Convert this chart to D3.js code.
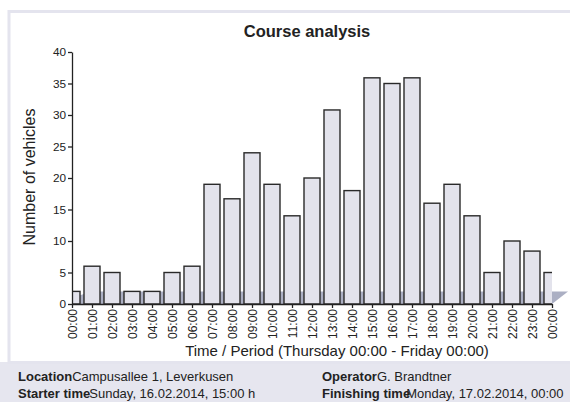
<!DOCTYPE html>
<html>
<head>
<meta charset="utf-8">
<script src="https://cdn.jsdelivr.net/npm/d3@7"></script>
<style>
	body { margin: 0; background: #fff; }
	text { font-family: "Liberation Sans", Arial, Helvetica, sans-serif; fill: #222; }
</style>
</head>
<body>
<svg id="chart" width="570" height="402"></svg>
<script>
// hourly counts, 00:00 .. 00:00 next day
let hours = d3.range(0, 25);
let hourLabels = hours.map(h => String(h % 24).padStart(2, "0") + ":00");
let vehicles = [2, 6, 5, 2, 2, 5, 6, 19, 16.7, 24, 19, 14, 20, 30.8, 18, 35.9, 35, 35.9, 16, 19, 14, 5, 10, 8.4, 5];
// background band behind the bars
let bandHours = [0, 1, 24, 24.8];
let bandValues = [1, 2, 2, 2];
let yTicks = [0, 5, 10, 15, 20, 25, 30, 35, 40];

let svg = d3.select("#chart");

// frame + info panel
svg.append("rect").attr("x", 0).attr("y", 362).attr("width", 570).attr("height", 40).attr("fill", "#e6e6ef");
svg.append("rect").attr("x", 9).attr("y", 11.5).attr("width", 570).attr("height", 351)
	.attr("fill", "#fff").attr("stroke", "#e4e4ee").attr("stroke-width", 3);

let xscale = d3.scaleLinear().domain([0, 24]).range([72, 552]);
let yscale = d3.scaleLinear().domain([0, 40]).range([304, 52]);

svg.append("text").attr("x", 307).attr("y", 37).attr("text-anchor", "middle")
	.style("font-size", "16.5px").style("font-weight", "bold").text("Course analysis");

// band
let band = d3.area()
	.x((d, i) => xscale(bandHours[i]))
	.y0((d, i) => bandHours[i] > 24 ? yscale(d) : yscale(0))
	.y1(d => yscale(d));
svg.append("path").datum(bandValues).attr("d", band).attr("fill", "#abafc3");

// bars
svg.append("clipPath").attr("id", "plot").append("rect")
	.attr("x", xscale(0)).attr("y", 0).attr("width", xscale(24) - xscale(0)).attr("height", yscale(0) + 1);

let barWidth = 16;
svg.append("g").attr("clip-path", "url(#plot)")
	.selectAll("rect")
	.data(vehicles)
	.enter()
	.append("rect")
	.attr("x", (d, i) => xscale(hours[i]) - barWidth / 2)
	.attr("y", d => yscale(d))
	.attr("width", barWidth)
	.attr("height", d => yscale(0) - yscale(d))
	.attr("fill", "#e3e3ec")
	.attr("stroke", "#2a2a2a")
	.attr("stroke-width", 1.4);

// axes
let yAxis = svg.append("g").attr("transform", "translate(" + xscale(0) + ",0)")
	.call(d3.axisLeft(yscale).tickValues(yTicks).tickSize(4).tickPadding(2).tickSizeOuter(0));
yAxis.selectAll("text").style("font-size", "11.8px");

let xAxis = svg.append("g").attr("transform", "translate(0," + yscale(0) + ")")
	.call(d3.axisBottom(xscale).tickValues(hours).tickFormat((d, i) => hourLabels[i]).tickSize(4).tickSizeOuter(0));
xAxis.selectAll("text")
	.attr("transform", "rotate(-90)")
	.attr("text-anchor", "end")
	.attr("x", -5).attr("y", 0).attr("dy", "0.35em")
	.style("font-size", "12px");
svg.selectAll(".domain, .tick line").attr("stroke", "#222").attr("stroke-width", 1.3);

svg.append("text").attr("transform", "translate(35,177) rotate(-90)").attr("text-anchor", "middle")
	.style("font-size", "16px").text("Number of vehicles");
svg.append("text").attr("x", 337).attr("y", 356).attr("text-anchor", "middle")
	.style("font-size", "15px").text("Time / Period (Thursday 00:00 - Friday 00:00)");

// info lines
let info = [
	{x: 18, y: 381, label: "Location", value: "Campusallee 1, Leverkusen", dx: 0},
	{x: 18, y: 398, label: "Starter time", value: "Sunday, 16.02.2014, 15:00 h", dx: -1},
	{x: 322, y: 381, label: "Operator", value: "G. Brandtner", dx: 0},
	{x: 322, y: 398, label: "Finishing time", value: "Monday, 17.02.2014, 00:00", dx: -4}
];
info.forEach(function(d) {
	let t = svg.append("text").attr("x", d.x).attr("y", d.y).style("font-size", "13px");
	t.append("tspan").style("font-weight", "bold").text(d.label);
	t.append("tspan").attr("dx", d.dx).text(d.value);
});
</script>
</body>
</html>
